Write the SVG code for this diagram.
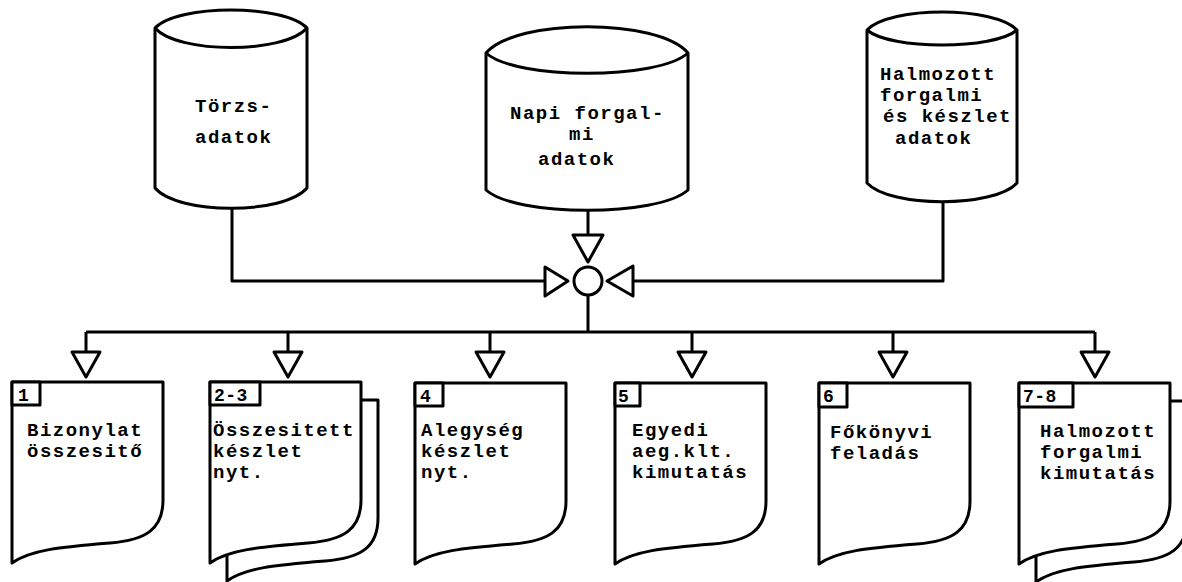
<svg xmlns="http://www.w3.org/2000/svg" width="1182" height="582" viewBox="0 0 1182 582">
<style>
.s{fill:#fff;stroke:#000;stroke-width:3;stroke-linejoin:round}
.n{fill:none;stroke:#000;stroke-width:3;stroke-linejoin:round}
.t{font-family:"Liberation Mono","DejaVu Sans Mono",monospace;font-size:19px;letter-spacing:1.5px;font-weight:bold;fill:#000}
.l{font-family:"Liberation Mono","DejaVu Sans Mono",monospace;font-size:18px;letter-spacing:0.5px;font-weight:bold;fill:#000}
</style>
<defs>
<path id="doc" d="M0,0 h151 v118 c0,30 -18,40 -53,43 c-50,4 -80,7 -98,20 z"/>
</defs>
<rect width="1182" height="582" fill="#fff"/>

<g id="connectors">
<path class="n" d="M232,208 V281 H545"/>
<polygon class="s" points="545,267 545,296 568,281"/>
<path class="n" d="M943,202 V281 H633"/>
<polygon class="s" points="633,266 633,296 607,281"/>
<path class="n" d="M588,210 V235"/>
<polygon class="s" points="573,235 603,235 588,262"/>
<circle class="s" cx="588" cy="281" r="14"/>
<path class="n" d="M588,295 V332 M86,332 H1095 M86,332 V352 M288,332 V352 M490,332 V352 M692,332 V352 M893,332 V352 M1095,332 V352"/>
<polygon class="s" points="72,352 100,352 86,377"/>
<polygon class="s" points="274,352 302,352 288,377"/>
<polygon class="s" points="476,352 504,352 490,377"/>
<polygon class="s" points="678,352 706,352 692,377"/>
<polygon class="s" points="879,352 907,352 893,377"/>
<polygon class="s" points="1081,352 1109,352 1095,377"/>
</g>

<g id="torzsadatok">
<path class="s" d="M155,28 V188 C178,215 284,215 307,188 V28 C284,4 178,4 155,28 Z"/>
<path class="n" d="M155,28 C178,54 284,54 307,28"/>
<text class="t" x="195" y="112">Törzs-</text>
<text class="t" x="195" y="143">adatok</text>
</g>

<g id="napi">
<path class="s" d="M486,53 V190 C516,217 658,217 688,190 V53 C658,18 516,18 486,53 Z"/>
<path class="n" d="M486,53 C516,80 658,80 688,53"/>
<text class="t" x="510" y="119">Napi forgal-</text>
<text class="t" x="569" y="140">mi</text>
<text class="t" x="538" y="165">adatok</text>
</g>

<g id="halmozott">
<path class="s" d="M867,30 V183 C890,208 994,208 1017,183 V30 C994,6 890,6 867,30 Z"/>
<path class="n" d="M867,30 C890,50 994,50 1017,30"/>
<text class="t" x="880" y="80">Halmozott</text>
<text class="t" x="880" y="101">forgalmi</text>
<text class="t" x="883" y="122">és készlet</text>
<text class="t" x="895" y="144">adatok</text>
</g>

<g id="doc1">
<use href="#doc" class="s" x="12" y="382"/>
<rect class="s" x="12" y="382" width="28" height="23"/>
<text class="l" x="18" y="401">1</text>
<text class="t" x="27" y="436">Bizonylat</text>
<text class="t" x="27" y="457">összesitő</text>
</g>

<g id="doc23">
<use href="#doc" class="s" x="227" y="400"/>
<use href="#doc" class="s" x="210" y="382"/>
<rect class="s" x="210" y="382" width="50" height="23"/>
<text class="l" x="214" y="401">2-3</text>
<text class="t" x="213" y="436">Összesitett</text>
<text class="t" x="213" y="457">készlet</text>
<text class="t" x="213" y="478">nyt.</text>
</g>

<g id="doc4">
<use href="#doc" class="s" x="415" y="383"/>
<rect class="s" x="415" y="383" width="28" height="23"/>
<text class="l" x="420" y="402">4</text>
<text class="t" x="421" y="436">Alegység</text>
<text class="t" x="421" y="457">készlet</text>
<text class="t" x="421" y="478">nyt.</text>
</g>

<g id="doc5">
<use href="#doc" class="s" x="615" y="383"/>
<rect class="s" x="615" y="383" width="25" height="23"/>
<text class="l" x="618" y="402">5</text>
<text class="t" x="632" y="436">Egyedi</text>
<text class="t" x="632" y="457">aeg.klt.</text>
<text class="t" x="632" y="478">kimutatás</text>
</g>

<g id="doc6">
<use href="#doc" class="s" x="819" y="383"/>
<rect class="s" x="819" y="383" width="28" height="24"/>
<text class="l" x="823" y="402">6</text>
<text class="t" x="830" y="438">Főkönyvi</text>
<text class="t" x="830" y="459">feladás</text>
</g>

<g id="doc78">
<use href="#doc" class="s" x="1036" y="401"/>
<use href="#doc" class="s" x="1019" y="383"/>
<rect class="s" x="1019" y="383" width="54" height="24"/>
<text class="l" x="1023" y="402">7-8</text>
<text class="t" x="1040" y="437">Halmozott</text>
<text class="t" x="1040" y="458">forgalmi</text>
<text class="t" x="1040" y="479">kimutatás</text>
</g>
</svg>
